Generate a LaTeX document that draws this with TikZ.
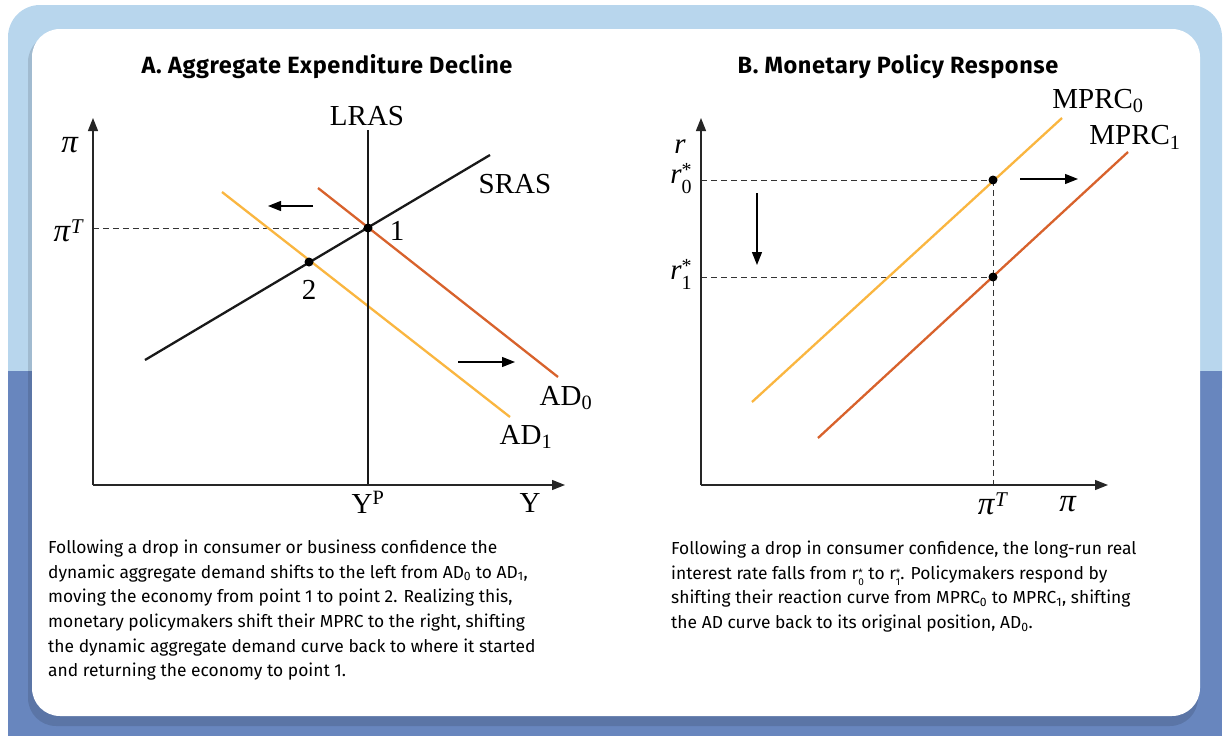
\documentclass[tikz,border=0pt]{standalone}
\usepackage{fontspec}
\setmainfont{Liberation Serif}
\newfontfamily\capfont{Fira Sans}
\newfontfamily\titlefont[LetterSpace=2.5]{Fira Sans}
\usetikzlibrary{arrows.meta}
\definecolor{framelight}{RGB}{184,214,237}
\definecolor{framedark}{RGB}{104,134,190}
\definecolor{adzeroline}{RGB}{216,98,44}
\definecolor{adoneline}{RGB}{250,182,64}
\newcommand{\rstar}[1]{r\raisebox{-.2ex}{\fontsize{10}{8.5}\selectfont\tabcolsep=0pt\begin{tabular}{l}*\\#1\end{tabular}}}
\newcommand{\rstarfig}[1]{\textit{r}\raisebox{-.1ex}{\fontsize{20}{12.5}\selectfont\tabcolsep=0pt\begin{tabular}{l}*\\#1\end{tabular}}}
\newcommand{\piglyph}{{\fontsize{33}{33}\selectfont\textit{π}}}
\newcommand{\supT}{\raisebox{.6ex}{\fontsize{21}{21}\selectfont\textit{T}}}
\tikzset{
  axisline/.style={-{Triangle[length=13pt,width=10pt]},line width=1.3pt,draw=black!85},
  srasline/.style={line width=2.3pt,draw=black!90},
  adzero/.style={line width=2.3pt,draw=adzeroline},
  adone/.style={line width=2.3pt,draw=adoneline},
  guide/.style={dash pattern=on 6pt off 4pt,line width=1pt,draw=black!80},
  shiftarrow/.style={-{Triangle[length=13pt,width=10pt]},line width=1.3pt},
  eqdot/.style={circle,fill=black,inner sep=0pt,minimum size=9pt},
  lbl/.style={font=\fontsize{29}{31}\selectfont,inner sep=0pt},
  paneltitle/.style={font=\titlefont\bfseries\fontsize{23.5}{26}\selectfont},
  captext/.style={font=\capfont\fontsize{17.4}{24.6}\selectfont,align=left,anchor=north west,inner sep=0pt},
}
\begin{document}
\begin{tikzpicture}[x=1pt,y=-1pt]
  \useasboundingbox (0,0) rectangle (1226,736);
  % frame
  \fill[framelight,rounded corners=32pt] (8,5) rectangle (1222,420);
  \fill[framedark] (8,371) rectangle (1222,736);
  \fill[black,opacity=.12,rounded corners=28pt] (28,34) rectangle (1198,726);
  \fill[white,rounded corners=28pt] (32,29) rectangle (1200,716);

  % panel A
  \node[paneltitle] (titleA) at (327,67) {A. Aggregate Expenditure Decline};
  \coordinate (Ao) at (93,485);
  \coordinate (Aytip) at (93,118);
  \coordinate (Axtip) at (565,485);
  \coordinate (lrasT) at (368,130);
  \coordinate (lrasB) at (368,485);
  \coordinate (srasL) at (145,360);
  \coordinate (srasR) at (490,155);
  \coordinate (adzA) at (318,188);
  \coordinate (adzB) at (558,377);
  \coordinate (adoA) at (222,192);
  \coordinate (adoB) at (510,417);
  \coordinate (piTax) at (93,228);
  \coordinate (lftA) at (313,206);
  \coordinate (lftB) at (268,206);
  \coordinate (rgtA) at (458,362);
  \coordinate (rgtB) at (515,362);
  \draw[guide] (piTax) -- (368,228);
  \draw[adone] (adoA) -- (adoB);
  \draw[adzero] (adzA) -- (adzB);
  \draw[srasline] (srasL) -- (srasR);
  \draw[srasline,line width=2pt] (lrasT) -- (lrasB);
  \draw[axisline] (Ao) -- (Aytip);
  \draw[axisline] (Ao) -- (Axtip);
  \node[eqdot] (pone) at (368,228) {};
  \node[eqdot] (ptwo) at (309,262) {};
  \draw[shiftarrow] (lftA) -- (lftB);
  \draw[shiftarrow] (rgtA) -- (rgtB);
  \node[lbl] (piA) at (70,145) {\piglyph};
  \node[lbl,anchor=east] (piTA) at (84,231) {\piglyph\supT};
  \node[lbl] (lraslbl) at (367,116) {LRAS};
  \node[lbl] (sraslbl) at (515,184) {SRAS};
  \node[lbl] (onelbl) at (397,231) {1};
  \node[lbl] (twolbl) at (309,290) {2};
  \node[lbl] (adzlbl) at (566,398) {AD\textsubscript{0}};
  \node[lbl] (adolbl) at (526,437) {AD\textsubscript{1}};
  \node[lbl] (yplbl) at (368,502) {Y\textsuperscript{P}};
  \node[lbl] (ylbl) at (530,503) {Y};

  % panel B
  \node[paneltitle] (titleB) at (898,67) {B. Monetary Policy Response};
  \coordinate (Bo) at (701,485);
  \coordinate (Bytip) at (701,118);
  \coordinate (Bxtip) at (1108,485);
  \coordinate (mpzA) at (752,402);
  \coordinate (mpzB) at (1062,118);
  \coordinate (mpoA) at (818,438);
  \coordinate (mpoB) at (1128,152);
  \coordinate (rzax) at (701,180);
  \coordinate (roax) at (701,277);
  \coordinate (piTax) at (993,485);
  \coordinate (dwnA) at (757,193);
  \coordinate (dwnB) at (757,265);
  \coordinate (rtA) at (1020,179);
  \coordinate (rtB) at (1078,179);
  \draw[guide] (rzax) -- (993,180);
  \draw[guide] (roax) -- (993,277);
  \draw[guide] (993,180) -- (piTax);
  \draw[adone] (mpzA) -- (mpzB);
  \draw[adzero] (mpoA) -- (mpoB);
  \draw[axisline] (Bo) -- (Bytip);
  \draw[axisline] (Bo) -- (Bxtip);
  \node[eqdot] (qzero) at (993,180) {};
  \node[eqdot] (qone) at (993,277) {};
  \draw[shiftarrow] (dwnA) -- (dwnB);
  \draw[shiftarrow] (rtA) -- (rtB);
  \node[lbl] (rlbl) at (680,147) {\textit{r}};
  \node[lbl] (rzlbl) at (681,180) {\rstarfig{0}};
  \node[lbl] (rolbl) at (681,276) {\rstarfig{1}};
  \node[lbl] (mpzlbl) at (1098,101) {MPRC\textsubscript{0}};
  \node[lbl] (mpolbl) at (1135,137) {MPRC\textsubscript{1}};
  \node[lbl] (piTB) at (993,504) {\piglyph\supT};
  \node[lbl] (piB) at (1068,504) {\piglyph};

  % captions
  \node[captext] (capA) at (48,540) {Following a drop in consumer or business confidence the\\
    dynamic aggregate demand shifts to the left from AD\textsubscript{0} to AD\textsubscript{1},\\
    moving the economy from point 1 to point 2. Realizing this,\\
    monetary policymakers shift their MPRC to the right, shifting\\
    the dynamic aggregate demand curve back to where it started\\
    and returning the economy to point 1.};
  \node[captext] (capB) at (671,541) {Following a drop in consumer confidence, the long-run real\\
    interest rate falls from \rstar{0} to \rstar{1}. Policymakers respond by\\
    shifting their reaction curve from MPRC\textsubscript{0} to MPRC\textsubscript{1}, shifting\\
    the AD curve back to its original position, AD\textsubscript{0}.};
\end{tikzpicture}
\end{document}
